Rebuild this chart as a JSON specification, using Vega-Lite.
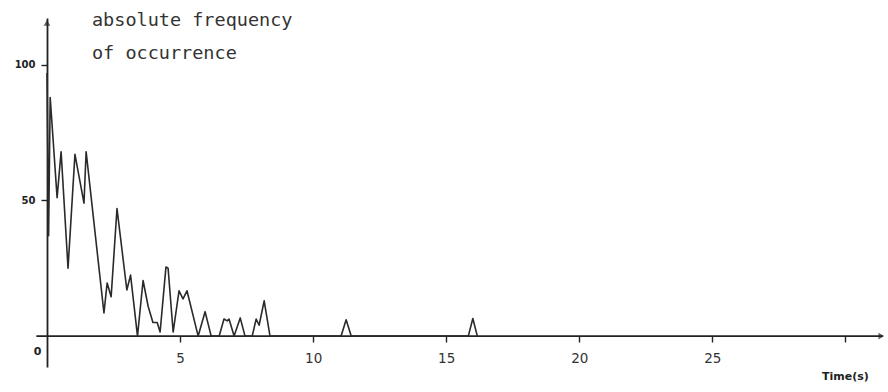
{
  "$schema": "https://vega.github.io/schema/vega-lite/v6.json",
  "width": 841,
  "height": 349,
  "autosize": {"type": "none"},
  "padding": {"left": 47, "top": 18, "right": 0, "bottom": 25},
  "background": "white",
  "config": {"view": {"stroke": null}},
  "datasets": {
    "curve": [
      {"t": 0.0, "v": 97}, {"t": 0.06, "v": 37}, {"t": 0.12, "v": 88}, {"t": 0.38, "v": 51},
      {"t": 0.53, "v": 68}, {"t": 0.79, "v": 25}, {"t": 1.05, "v": 67}, {"t": 1.39, "v": 49},
      {"t": 1.47, "v": 68}, {"t": 2.14, "v": 8.5}, {"t": 2.26, "v": 19.6}, {"t": 2.41, "v": 14.5},
      {"t": 2.63, "v": 47}, {"t": 3.0, "v": 17}, {"t": 3.14, "v": 22.5}, {"t": 3.4, "v": 0},
      {"t": 3.61, "v": 20.5}, {"t": 3.8, "v": 11}, {"t": 3.98, "v": 5}, {"t": 4.14, "v": 5},
      {"t": 4.25, "v": 1.5}, {"t": 4.47, "v": 25.5}, {"t": 4.55, "v": 25}, {"t": 4.74, "v": 1.5},
      {"t": 4.96, "v": 16.7}, {"t": 5.11, "v": 13.7}, {"t": 5.26, "v": 16.7}, {"t": 5.68, "v": 0},
      {"t": 5.94, "v": 9}, {"t": 6.17, "v": 0}, {"t": 6.47, "v": 0}, {"t": 6.65, "v": 6.3},
      {"t": 6.77, "v": 5.6}, {"t": 6.84, "v": 6.3}, {"t": 7.03, "v": 0}, {"t": 7.26, "v": 6.7},
      {"t": 7.44, "v": 0}, {"t": 7.71, "v": 0}, {"t": 7.86, "v": 6.3}, {"t": 7.97, "v": 4},
      {"t": 8.16, "v": 13}, {"t": 8.38, "v": 0}, {"t": 11.05, "v": 0}, {"t": 11.24, "v": 6},
      {"t": 11.43, "v": 0}, {"t": 15.83, "v": 0}, {"t": 16.0, "v": 6.5}, {"t": 16.17, "v": 0}
    ],
    "labels": [
      {"t": 1.69, "v": 114.5, "label": "absolute frequency"},
      {"t": 1.69, "v": 102, "label": "of occurrence"}
    ]
  },
  "layer": [
    {
      "data": {"values": [{"t0": -0.4, "t1": 31.4, "v": 0}]},
      "mark": {"type": "rule", "color": "#222", "strokeWidth": 1.8, "clip": false},
      "encoding": {
        "x": {"field": "t0", "type": "quantitative", "scale": {"domain": [0, 31.6], "nice": false, "zero": false}},
        "x2": {"field": "t1"},
        "y": {"field": "v", "type": "quantitative", "scale": {"domain": [-11.4, 117.3], "nice": false, "zero": false}}
      }
    },
    {
      "data": {"values": [{"t": 31.35, "v": 0, "shape": "triangle-right"}, {"t": 0, "v": 115.5, "shape": "triangle-up"}]},
      "mark": {"type": "point", "filled": true, "color": "#222", "size": 45, "clip": false},
      "encoding": {
        "x": {"field": "t", "type": "quantitative"},
        "y": {"field": "v", "type": "quantitative"},
        "shape": {"field": "shape", "type": "nominal", "scale": null, "legend": null}
      }
    },
    {
      "data": {"name": "curve"},
      "mark": {"type": "line", "color": "#2a2a2a", "strokeWidth": 1.6, "strokeJoin": "round", "clip": false},
      "encoding": {
        "x": {
          "field": "t", "type": "quantitative",
          "axis": {
            "values": [5, 10, 15, 20, 25, 30],
            "labelExpr": "datum.value == 30 ? '' : datum.label",
            "domain": false, "grid": false, "offset": -31,
            "tickColor": "#222", "tickSize": 6, "tickWidth": 1.4,
            "labelFont": "DejaVu Sans", "labelFontSize": 13.5, "labelColor": "#333", "labelPadding": 9,
            "title": "Time(s)", "titleFont": "DejaVu Sans", "titleFontSize": 11, "titleFontWeight": "bold",
            "titleColor": "#222", "titleAnchor": null, "titleAlign": "center", "titleX": 798, "titleY": 40, "titleBaseline": "middle"
          }
        },
        "y": {
          "field": "v", "type": "quantitative",
          "axis": {
            "values": [50, 100],
            "domain": true, "domainColor": "#222", "domainWidth": 1.8, "grid": false,
            "tickColor": "#222", "tickSize": 6, "tickWidth": 1.4,
            "labelFont": "DejaVu Sans", "labelFontSize": 10, "labelFontWeight": "bold", "labelColor": "#222", "labelPadding": 6,
            "title": null
          }
        }
      }
    },
    {
      "data": {"values": [{"t": -0.35, "v": -6, "label": "0"}]},
      "mark": {"type": "text", "font": "DejaVu Sans", "fontSize": 11, "fontWeight": "bold", "color": "#222", "align": "center", "baseline": "middle", "clip": false},
      "encoding": {
        "x": {"field": "t", "type": "quantitative"},
        "y": {"field": "v", "type": "quantitative"},
        "text": {"field": "label"}
      }
    },
    {
      "data": {"name": "labels"},
      "mark": {"type": "text", "font": "DejaVu Sans Mono", "fontSize": 18.5, "color": "#333", "align": "left", "baseline": "alphabetic", "clip": false},
      "encoding": {
        "x": {"field": "t", "type": "quantitative"},
        "y": {"field": "v", "type": "quantitative"},
        "text": {"field": "label"}
      }
    }
  ]
}
